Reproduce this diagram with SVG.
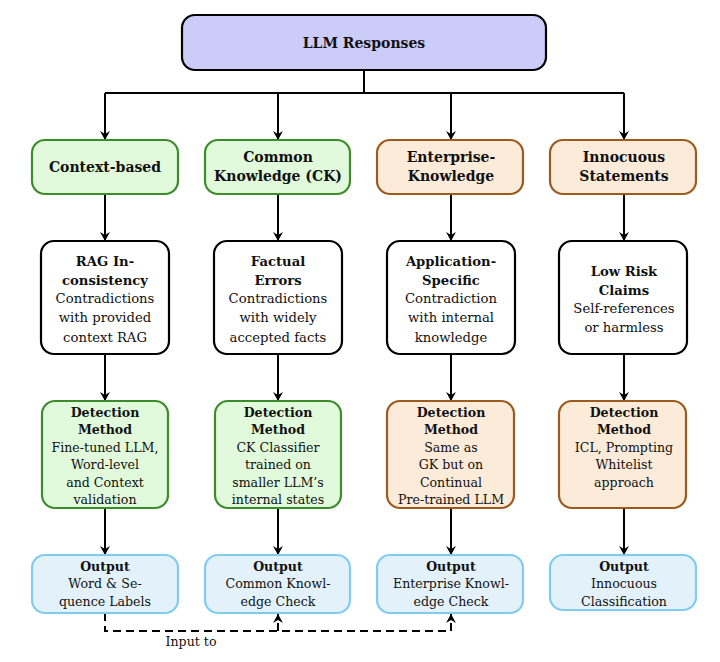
<svg xmlns="http://www.w3.org/2000/svg" width="720" height="662" viewBox="0 0 720 662">
<defs>
<marker id="ah" viewBox="-10 -6 12 12" refX="0" refY="0" markerWidth="12" markerHeight="12" markerUnits="userSpaceOnUse" orient="auto">
<path d="M0,0 L-9,-5 L-6,0 L-9,5 Z" fill="#000"/>
</marker>
</defs>
<style>
text{font-family:"DejaVu Serif","Liberation Serif",serif;text-anchor:middle;fill:#111}
.b{font-weight:bold}
.t1{font-size:14px}
.t2{font-size:13.2px}
.t3{font-size:12.6px}
.box{stroke-width:2.2}
.top{fill:#ccccf8;stroke:#000}
.green{fill:#e1fadb;stroke:#3c8c2c}
.orange{fill:#fcebd9;stroke:#9c5a1e}
.white{fill:#fff;stroke:#000}
.blue{fill:#e3f2fa;stroke:#80ccf0}
.c{fill:none;stroke:#000;stroke-width:2}
.d{stroke-dasharray:8,5}
</style>
<g id="connectors">
<path class="c" d="M364,70 V93"/>
<path class="c" d="M105,93 H624"/>
<path class="c" d="M105,93 V140" marker-end="url(#ah)"/>
<path class="c" d="M278,93 V140" marker-end="url(#ah)"/>
<path class="c" d="M451,93 V140" marker-end="url(#ah)"/>
<path class="c" d="M624,93 V140" marker-end="url(#ah)"/>
<path class="c" d="M105,194 V241" marker-end="url(#ah)"/>
<path class="c" d="M278,194 V241" marker-end="url(#ah)"/>
<path class="c" d="M451,194 V241" marker-end="url(#ah)"/>
<path class="c" d="M624,194 V241" marker-end="url(#ah)"/>
<path class="c" d="M105,354 V401" marker-end="url(#ah)"/>
<path class="c" d="M278,354 V401" marker-end="url(#ah)"/>
<path class="c" d="M451,354 V401" marker-end="url(#ah)"/>
<path class="c" d="M624,354 V401" marker-end="url(#ah)"/>
<path class="c" d="M105,508 V555" marker-end="url(#ah)"/>
<path class="c" d="M278,508 V555" marker-end="url(#ah)"/>
<path class="c" d="M451,508 V555" marker-end="url(#ah)"/>
<path class="c" d="M624,508 V555" marker-end="url(#ah)"/>
<path class="c d" d="M105,613 V631 H451 V614" marker-end="url(#ah)"/>
<path class="c d" d="M278,631 V614" marker-end="url(#ah)"/>
<text class="t3" x="191" y="646">Input to</text>
</g>
<g id="llm-responses">
<rect class="box top" x="182" y="15" width="364" height="55" rx="13"/>
<text class="t1 b" x="364" y="48">LLM Responses</text>
</g>
<g id="context-based">
<rect class="box green" x="32" y="140" width="146" height="54" rx="13"/>
<text class="t1 b" x="105" y="172">Context-based</text>
</g>
<g id="common-knowledge">
<rect class="box green" x="205" y="140" width="145" height="54" rx="13"/>
<text class="t1 b" x="278" y="162">Common</text>
<text class="t1 b" x="278" y="181">Knowledge (CK)</text>
</g>
<g id="enterprise-knowledge">
<rect class="box orange" x="377" y="140" width="146" height="54" rx="13"/>
<text class="t1 b" x="451" y="162">Enterprise-</text>
<text class="t1 b" x="451" y="181">Knowledge</text>
</g>
<g id="innocuous-statements">
<rect class="box orange" x="550" y="140" width="146" height="54" rx="13"/>
<text class="t1 b" x="624" y="162">Innocuous</text>
<text class="t1 b" x="624" y="181">Statements</text>
</g>
<g id="rag-inconsistency">
<rect class="box white" x="41" y="241" width="128" height="113" rx="13"/>
<text class="t2 b" x="105" y="266">RAG In-</text>
<text class="t2 b" x="105" y="285">consistency</text>
<text class="t2" x="105" y="303">Contradictions</text>
<text class="t2" x="105" y="322">with provided</text>
<text class="t2" x="105" y="342">context RAG</text>
</g>
<g id="factual-errors">
<rect class="box white" x="214" y="241" width="128" height="113" rx="13"/>
<text class="t2 b" x="278" y="266">Factual</text>
<text class="t2 b" x="278" y="285">Errors</text>
<text class="t2" x="278" y="303">Contradictions</text>
<text class="t2" x="278" y="322">with widely</text>
<text class="t2" x="278" y="342">accepted facts</text>
</g>
<g id="application-specific">
<rect class="box white" x="387" y="241" width="128" height="113" rx="13"/>
<text class="t2 b" x="451" y="266">Application-</text>
<text class="t2 b" x="451" y="285">Specific</text>
<text class="t2" x="451" y="303">Contradiction</text>
<text class="t2" x="451" y="322">with internal</text>
<text class="t2" x="451" y="342">knowledge</text>
</g>
<g id="low-risk-claims">
<rect class="box white" x="559" y="241" width="128" height="113" rx="13"/>
<text class="t2 b" x="624" y="276">Low Risk</text>
<text class="t2 b" x="624" y="295">Claims</text>
<text class="t2" x="624" y="313">Self-references</text>
<text class="t2" x="624" y="332">or harmless</text>
</g>
<g id="detection-context">
<rect class="box green" x="42" y="401" width="126" height="107" rx="13"/>
<text class="t3 b" x="105" y="417">Detection</text>
<text class="t3 b" x="105" y="434">Method</text>
<text class="t3" x="105" y="452">Fine-tuned LLM,</text>
<text class="t3" x="105" y="469">Word-level</text>
<text class="t3" x="105" y="487">and Context</text>
<text class="t3" x="105" y="504">validation</text>
</g>
<g id="detection-ck">
<rect class="box green" x="215" y="401" width="126" height="107" rx="13"/>
<text class="t3 b" x="278" y="417">Detection</text>
<text class="t3 b" x="278" y="434">Method</text>
<text class="t3" x="278" y="452">CK Classifier</text>
<text class="t3" x="278" y="469">trained on</text>
<text class="t3" x="278" y="487">smaller LLM’s</text>
<text class="t3" x="278" y="504">internal states</text>
</g>
<g id="detection-enterprise">
<rect class="box orange" x="387" y="401" width="127" height="107" rx="13"/>
<text class="t3 b" x="451" y="417">Detection</text>
<text class="t3 b" x="451" y="434">Method</text>
<text class="t3" x="451" y="452">Same as</text>
<text class="t3" x="451" y="469">GK but on</text>
<text class="t3" x="451" y="487">Continual</text>
<text class="t3" x="451" y="504">Pre-trained LLM</text>
</g>
<g id="detection-innocuous">
<rect class="box orange" x="559" y="401" width="127" height="107" rx="13"/>
<text class="t3 b" x="624" y="417">Detection</text>
<text class="t3 b" x="624" y="434">Method</text>
<text class="t3" x="624" y="452">ICL, Prompting</text>
<text class="t3" x="624" y="469">Whitelist</text>
<text class="t3" x="624" y="487">approach</text>
</g>
<g id="output-context">
<rect class="box blue" x="32" y="555" width="146" height="58" rx="13"/>
<text class="t3 b" x="105" y="571">Output</text>
<text class="t3" x="105" y="588">Word &amp; Se-</text>
<text class="t3" x="105" y="606">quence Labels</text>
</g>
<g id="output-ck">
<rect class="box blue" x="205" y="555" width="145" height="58" rx="13"/>
<text class="t3 b" x="278" y="571">Output</text>
<text class="t3" x="278" y="588">Common Knowl-</text>
<text class="t3" x="278" y="606">edge Check</text>
</g>
<g id="output-enterprise">
<rect class="box blue" x="377" y="555" width="146" height="58" rx="13"/>
<text class="t3 b" x="451" y="571">Output</text>
<text class="t3" x="451" y="588">Enterprise Knowl-</text>
<text class="t3" x="451" y="606">edge Check</text>
</g>
<g id="output-innocuous">
<rect class="box blue" x="550" y="555" width="146" height="55" rx="13"/>
<text class="t3 b" x="624" y="571">Output</text>
<text class="t3" x="624" y="588">Innocuous</text>
<text class="t3" x="624" y="606">Classification</text>
</g>
</svg>
